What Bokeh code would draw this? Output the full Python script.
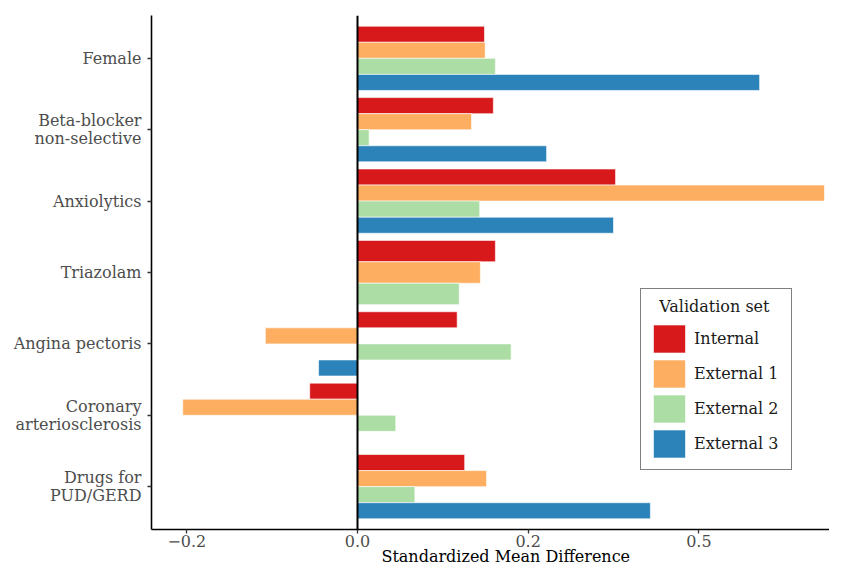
from bokeh.plotting import figure
from bokeh.models import (FactorRange, Range1d, ColumnDataSource, Legend, LegendItem,
                          Span, FixedTicker)
from bokeh.embed import file_html
from bokeh.resources import INLINE

# ---- data ----
categories = ["Female", "Beta-blocker\nnon-selective", "Anxiolytics", "Triazolam",
              "Angina pectoris", "Coronary\narteriosclerosis", "Drugs for\nPUD/GERD"]
series = ["Internal", "External 1", "External 2", "External 3"]
colors = ["#d7191c", "#fdae61", "#abdda4", "#2b83ba"]
internal = [0.186, 0.199, 0.378, 0.202, 0.146, -0.070, 0.157]
external_1 = [0.187, 0.167, 0.684, 0.180, -0.135, -0.256, 0.189]
external_2 = [0.202, 0.017, 0.179, 0.149, 0.225, 0.056, 0.084]
external_3 = [0.589, 0.277, 0.375, None, -0.057, 0.0, 0.429]
x_ticks = [-0.25, 0.0, 0.25, 0.5]
x_tick_labels = ["\u22120.2", "0.0", "0.2", "0.5"]
x_title = "Standardized Mean Difference"
legend_title = "Validation set"

values = [internal, external_1, external_2, external_3]
FONT = "DejaVu Serif"
FS = "16px"
DODGE = 0.9
NBSP = "\u00a0"

# ---- dodge positions (ggplot-style: slots shared among present series) ----
cols = {s: dict(y=[], right=[], height=[]) for s in series}
for ci, cat in enumerate(categories):
    present = [si for si in range(len(series)) if values[si][ci] is not None]
    w = DODGE / len(present)
    for k, si in enumerate(present):
        off = DODGE / 2 - w * (k + 0.5)
        cols[series[si]]["y"].append((cat, off))
        cols[series[si]]["right"].append(values[si][ci])
        cols[series[si]]["height"].append(w)

W, H = 829, 568
LEFT, TOP, BOTTOM = 151, 15, 39
PX_PER_UNIT = 682.7
x_start = -(358 - 152) / PX_PER_UNIT
x_end = x_start + (W - LEFT) / PX_PER_UNIT

p = figure(width=W, height=H, output_backend="svg", toolbar_location=None,
           y_range=FactorRange(factors=list(reversed(categories)), range_padding=0.1,
                               range_padding_units="absolute"),
           x_range=Range1d(x_start, x_end),
           min_border_left=LEFT, min_border_right=0, min_border_top=TOP,
           min_border_bottom=BOTTOM)
p.background_fill_color = "white"
p.border_fill_color = "white"
p.outline_line_color = None
p.xgrid.visible = False
p.ygrid.visible = False

renderers = []
for s, c in zip(series, colors):
    src = ColumnDataSource(cols[s])
    r = p.hbar(y="y", left=0, right="right", height="height", source=src,
               fill_color=c, line_color="white", line_width=0.6)
    renderers.append(r)

p.add_layout(Span(location=0, dimension="height", line_color="black", line_width=2))

for ax in (p.xaxis[0], p.yaxis[0]):
    ax.axis_line_color = "black"
    ax.axis_line_width = 1.6
    ax.major_tick_line_color = "#333333"
    ax.major_tick_line_width = 1.3
    ax.major_tick_out = 4
    ax.major_tick_in = 0
    ax.minor_tick_line_color = None
    ax.major_label_text_font = FONT
    ax.major_label_text_font_size = FS
    ax.major_label_text_color = "#4d4d4d"

p.yaxis.major_label_text_line_height = 0.95
p.yaxis.major_label_standoff = 6
p.xaxis.ticker = FixedTicker(ticks=x_ticks)
p.xaxis.major_label_overrides = dict(zip(x_ticks, x_tick_labels))
p.xaxis.major_label_standoff = 1
# leading no-break spaces shift the centred title to the reference panel's centre
p.xaxis.axis_label = NBSP * 6 + x_title
p.xaxis.axis_label_text_font = FONT
p.xaxis.axis_label_text_font_style = "normal"
p.xaxis.axis_label_text_font_size = FS
p.xaxis.axis_label_text_color = "black"
p.xaxis.axis_label_standoff = -3

legend = Legend(items=[LegendItem(label=s, renderers=[r]) for s, r in zip(series, renderers)],
                location=(489, 59), title=NBSP * 2 + legend_title,
                title_text_font=FONT, title_text_font_size=FS, title_text_color="#1a1a1a",
                title_text_font_style="normal", title_standoff=5,
                label_text_font=FONT, label_text_font_size=FS, label_text_color="#1a1a1a",
                glyph_width=40, glyph_height=35, spacing=0, padding=8, label_standoff=5,
                label_width=89,
                border_line_color="black", border_line_width=1.6,
                background_fill_color="white", background_fill_alpha=1.0)
p.add_layout(legend)

open("out.html", "w").write(file_html(p, INLINE))
